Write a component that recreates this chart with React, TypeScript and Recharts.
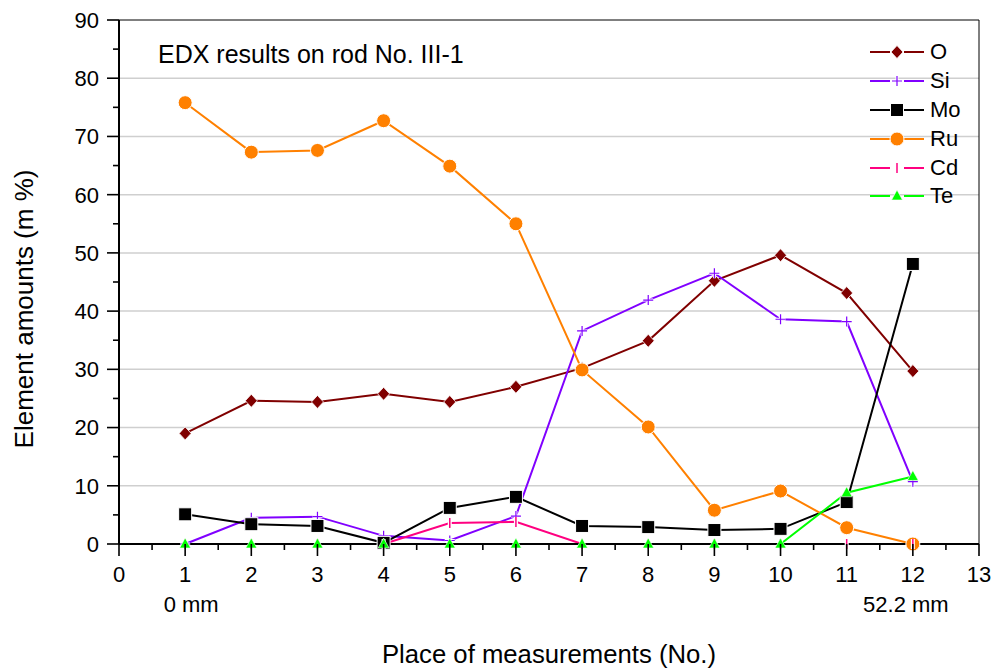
import { LineChart, Line, XAxis, YAxis, ReferenceLine } from 'recharts'

// measurement places along the rod
const places = [1, 2, 3, 4, 5, 6, 7, 8, 9, 10, 11, 12]

// element amounts (m %)
const oxygen = [19.0, 24.6, 24.4, 25.8, 24.4, 27.0, 30.2, 34.9, 45.2, 49.6, 43.1, 29.7]
const silicon = [0, 4.5, 4.7, 1.4, 0.6, 4.8, 36.6, 41.9, 46.5, 38.6, 38.2, 10.7]
const molybdenum = [5.1, 3.4, 3.1, 0.2, 6.2, 8.1, 3.1, 2.9, 2.4, 2.6, 7.2, 48.1]
const ruthenium = [75.8, 67.3, 67.6, 72.7, 64.9, 55.0, 29.9, 20.1, 5.8, 9.1, 2.8, 0]
const cadmium = [0, 0, 0, 0, 3.6, 3.8, 0, 0, 0, 0, 0, 0]
const tellurium = [0, 0, 0, 0, 0, 0, 0, 0, 0, 0, 8.8, 11.6]

const xTicks = [
  0, 0.5, 1, 1.5, 2, 2.5, 3, 3.5, 4, 4.5, 5, 5.5, 6, 6.5, 7, 7.5, 8, 8.5, 9, 9.5, 10, 10.5, 11,
  11.5, 12, 12.5, 13,
]
const yTicks = [0, 5, 10, 15, 20, 25, 30, 35, 40, 45, 50, 55, 60, 65, 70, 75, 80, 85, 90]
const gridLevels = [10, 20, 30, 40, 50, 60, 70, 80]
const placeNotes: Record<number, string> = { 1: '0 mm', 12: '52.2 mm' }
// small horizontal nudge of the distance notes under their ticks
const noteShift: Record<number, number> = { 1: 6, 12: -7 }

const data = places.map((p, i) => ({
  place: p,
  O: oxygen[i],
  Si: silicon[i],
  Mo: molybdenum[i],
  Ru: ruthenium[i],
  Cd: cadmium[i],
  Te: tellurium[i],
}))

type MarkProps = { cx?: number; cy?: number; index?: number }

function Diamond({ cx = 0, cy = 0 }: MarkProps) {
  return (
    <path
      d={`M${cx},${cy - 6.5}L${cx + 6},${cy}L${cx},${cy + 6.5}L${cx - 6},${cy}Z`}
      fill="#800000"
      stroke="#fff"
      strokeWidth={0.8}
    />
  )
}

function Plus({ cx = 0, cy = 0 }: MarkProps) {
  const d = `M${cx - 5},${cy}H${cx + 5}M${cx},${cy - 5}V${cy + 5}`
  return (
    <g>
      <path d={d} stroke="#fff" strokeWidth={3} />
      <path d={d} stroke="#8000ff" strokeWidth={1.2} />
    </g>
  )
}

function Square({ cx = 0, cy = 0 }: MarkProps) {
  return <rect x={cx - 6.5} y={cy - 6.5} width={13} height={13} fill="#000" stroke="#fff" strokeWidth={1} />
}

function Circle({ cx = 0, cy = 0 }: MarkProps) {
  return <circle cx={cx} cy={cy} r={7} fill="#ff8000" stroke="#fff" strokeWidth={1} />
}

function Bar({ cx = 0, cy = 0 }: MarkProps) {
  const d = `M${cx},${cy - 5}V${cy + 5}`
  return (
    <g>
      <path d={d} stroke="#fff" strokeWidth={4} />
      <path d={d} stroke="#ff0080" strokeWidth={1.5} />
    </g>
  )
}

function Triangle({ cx = 0, cy = 0 }: MarkProps) {
  return (
    <path
      d={`M${cx},${cy - 6}L${cx + 5.5},${cy + 4}L${cx - 5.5},${cy + 4}Z`}
      fill="#00ff00"
      stroke="#fff"
      strokeWidth={0.6}
    />
  )
}

const series = [
  { key: 'O', color: '#800000', Mark: Diamond },
  { key: 'Si', color: '#8000ff', Mark: Plus },
  { key: 'Mo', color: '#000000', Mark: Square },
  { key: 'Ru', color: '#ff8000', Mark: Circle },
  { key: 'Cd', color: '#ff0080', Mark: Bar },
  { key: 'Te', color: '#00ff00', Mark: Triangle },
]

function XTick({ x, y, payload }: { x?: number; y?: number; payload?: { value: number } }) {
  const v = payload?.value ?? 0
  const px = x ?? 0
  const py = y ?? 0
  const major = Number.isInteger(v)
  return (
    <g>
      <line x1={px} x2={px} y1={py} y2={py + (major ? 12 : 6)} stroke="#000" strokeWidth={1.6} />
      {major && (
        <text x={px} y={py + 38} textAnchor="middle" fontSize={22} fill="#000">
          {v}
        </text>
      )}
      {placeNotes[v] && (
        <text x={px + (noteShift[v] ?? 0)} y={py + 68} textAnchor="middle" fontSize={22} fill="#000">
          {placeNotes[v]}
        </text>
      )}
    </g>
  )
}

function YTick({ x, y, payload }: { x?: number; y?: number; payload?: { value: number } }) {
  const v = payload?.value ?? 0
  const px = x ?? 0
  const py = y ?? 0
  const major = v % 10 === 0
  return (
    <g>
      <line x1={px - (major ? 12 : 6)} x2={px} y1={py} y2={py} stroke="#000" strokeWidth={1.6} />
      {major && (
        <text x={px - 20} y={py} dy="0.36em" textAnchor="end" fontSize={22} fill="#000">
          {v}
        </text>
      )}
    </g>
  )
}

export default function App() {
  return (
    <div
      style={{
        position: 'absolute',
        left: 0,
        top: 0,
        width: 995,
        height: 670,
        background: '#fff',
        fontFamily: '"Liberation Sans", Arial, sans-serif',
        color: '#000',
      }}
    >
      <LineChart width={995} height={670} data={data} margin={{ top: 20, right: 16, left: 0, bottom: 0 }}>
        <XAxis
          dataKey="place"
          type="number"
          domain={[0, 13]}
          ticks={xTicks}
          interval={0}
          tickSize={0}
          tickMargin={0}
          tick={<XTick />}
          axisLine={{ stroke: '#000', strokeWidth: 2 }}
          height={126}
          label={{
            value: 'Place of measurements (No.)',
            position: 'insideBottom',
            offset: 7,
            fill: '#000',
            fontSize: 25.7,
          }}
        />
        <YAxis
          type="number"
          domain={[0, 90]}
          ticks={yTicks}
          interval={0}
          tickSize={0}
          tickMargin={0}
          tick={<YTick />}
          axisLine={{ stroke: '#000', strokeWidth: 2 }}
          width={119}
          label={{
            content: () => (
              <text x={33} y={309} transform="rotate(-90, 33, 309)" textAnchor="middle" fontSize={26} fill="#000">
                Element amounts (m %)
              </text>
            ),
          }}
        />
        {gridLevels.map((v) => (
          <ReferenceLine key={v} y={v} stroke="#cfcfcf" strokeWidth={1.5} />
        ))}
        <ReferenceLine y={90} stroke="#000" strokeWidth={1} />
        <ReferenceLine x={13} stroke="#000" strokeWidth={1} />
        {series.map((s) => (
          <Line
            key={s.key}
            dataKey={s.key}
            type="linear"
            stroke={s.color}
            strokeWidth={2}
            isAnimationActive={false}
            activeDot={false}
            dot={(p: MarkProps) => <s.Mark key={`${s.key}-${p.index}`} cx={p.cx} cy={p.cy} />}
          />
        ))}
      </LineChart>

      <div style={{ position: 'absolute', left: 158, top: 42, fontSize: 25, lineHeight: '24px', whiteSpace: 'nowrap' }}>
        EDX results on rod No. III-1
      </div>

      <div style={{ position: 'absolute', left: 868, top: 38 }}>
        {series.map((s) => (
          <div key={s.key} style={{ display: 'flex', alignItems: 'center', height: 28.8 }}>
            <svg width={60} height={20} style={{ display: 'block' }}>
              <line x1={2} x2={22} y1={10} y2={10} stroke={s.color} strokeWidth={2} />
              <line x1={36} x2={56} y1={10} y2={10} stroke={s.color} strokeWidth={2} />
              <s.Mark cx={29} cy={10} />
            </svg>
            <span style={{ fontSize: 22, marginLeft: 2, lineHeight: '22px' }}>{s.key}</span>
          </div>
        ))}
      </div>
    </div>
  )
}
